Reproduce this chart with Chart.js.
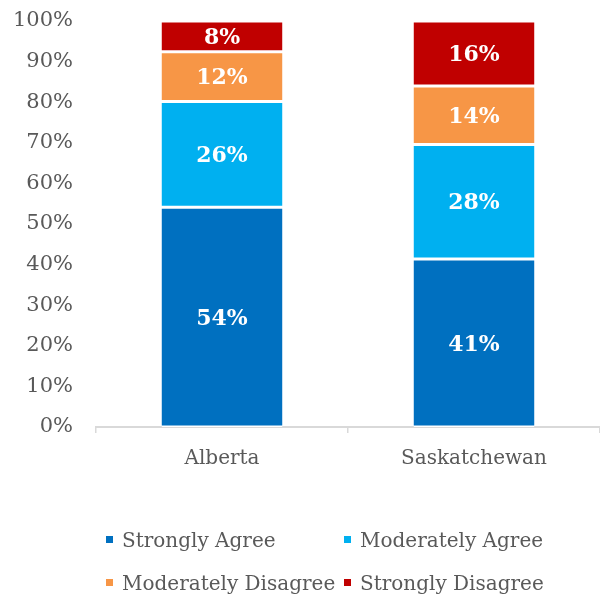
<!DOCTYPE html>
<html>
<head>
<meta charset="utf-8">
<script src="https://cdn.jsdelivr.net/npm/chart.js@4.4.1/dist/chart.umd.min.js"></script>
<style>
  body { margin: 0; background: #fff; }
  .wrap { position: relative; width: 600px; height: 596px; }
  .legend { position: absolute; left: 0; top: 0; font-family: "DejaVu Serif", serif; font-size: 20px; color: #595959; }
  .legend .item { position: absolute; white-space: nowrap; line-height: 24px; }
  .legend .box { display: inline-block; width: 7px; height: 7px; margin-right: 9px; vertical-align: middle; position: relative; top: -2px; }
</style>
</head>
<body>
<div class="wrap">
  <canvas id="surveyChart" width="600" height="596"></canvas>
  <div class="legend" id="legend"></div>
</div>
<script type="text/javascript">
  var categories = ["Alberta", "Saskatchewan"];
  var seriesNames = ["Strongly Agree", "Moderately Agree", "Moderately Disagree", "Strongly Disagree"];
  var stronglyAgree = [54.1, 41.4];
  var moderatelyAgree = [26.1, 28.2];
  var moderatelyDisagree = [12.2, 14.4];
  var stronglyDisagree = [7.6, 16.0];
  var yTicks = [0, 10, 20, 30, 40, 50, 60, 70, 80, 90, 100];
  var colors = ["#0070C0", "#00B0F0", "#F79646", "#C00000"];

  var seriesValues = [stronglyAgree, moderatelyAgree, moderatelyDisagree, stronglyDisagree];

  // draws the white bold percentage in the middle of each segment
  var segmentLabels = {
    id: "segmentLabels",
    afterDatasetsDraw: function (chart) {
      var ctx = chart.ctx;
      ctx.save();
      ctx.font = "bold 22px 'DejaVu Serif', serif";
      ctx.fillStyle = "#ffffff";
      ctx.textAlign = "center";
      ctx.textBaseline = "middle";
      chart.data.datasets.forEach(function (ds, i) {
        chart.getDatasetMeta(i).data.forEach(function (bar, j) {
          var p = bar.getProps(["x", "y", "base"], true);
          ctx.fillText(Math.round(ds.data[j]) + "%", p.x, (p.y + p.base) / 2 + 2);
        });
      });
      ctx.restore();
    }
  };

  var chart = new Chart("surveyChart", {
    type: "bar",
    data: {
      labels: categories,
      datasets: seriesNames.map(function (name, i) {
        return {
          label: name,
          data: seriesValues[i],
          backgroundColor: colors[i],
          borderColor: "#ffffff",
          borderWidth: { top: 1.5, bottom: 1.5, left: 0, right: 0 },
          borderSkipped: false,
          barPercentage: 0.48,
          categoryPercentage: 1
        };
      })
    },
    options: {
      responsive: false,
      animation: false,
      layout: { padding: { top: 21, right: 0, left: 0, bottom: 0 } },
      plugins: {
        legend: { display: false },
        tooltip: { enabled: false }
      },
      scales: {
        x: {
          stacked: true,
          afterFit: function (s) { s.height = 169; },
          grid: {
            display: true,
            drawOnChartArea: false,
            offset: true,
            tickLength: 6,
            color: "#d9d9d9",
            lineWidth: 1.5
          },
          border: { display: true, color: "#d9d9d9", width: 2 },
          ticks: {
            color: "#595959",
            padding: 14,
            font: { family: "'DejaVu Serif', serif", size: 20 }
          }
        },
        y: {
          stacked: true,
          min: 0,
          max: 100,
          afterFit: function (s) {
            s.width = 96;
            s.paddingTop = 0;
            s.paddingBottom = 0;
          },
          afterBuildTicks: function (s) {
            s.ticks = yTicks.map(function (v) { return { value: v }; });
          },
          grid: { display: false, drawTicks: false },
          border: { display: false },
          ticks: {
            color: "#595959",
            padding: 23,
            font: { family: "'DejaVu Serif', serif", size: 21 },
            callback: function (v) { return v + "%"; }
          }
        }
      }
    },
    plugins: [segmentLabels]
  });

  // legend laid out in two columns like the original
  var legendPos = [[106, 528], [344, 528], [106, 571], [344, 571]];
  var legendEl = document.getElementById("legend");
  seriesNames.forEach(function (name, i) {
    var item = document.createElement("div");
    item.className = "item";
    item.style.left = legendPos[i][0] + "px";
    item.style.top = legendPos[i][1] + "px";
    item.innerHTML = '<span class="box" style="background:' + colors[i] + '"></span>' + name;
    legendEl.appendChild(item);
  });
</script>
</body>
</html>
